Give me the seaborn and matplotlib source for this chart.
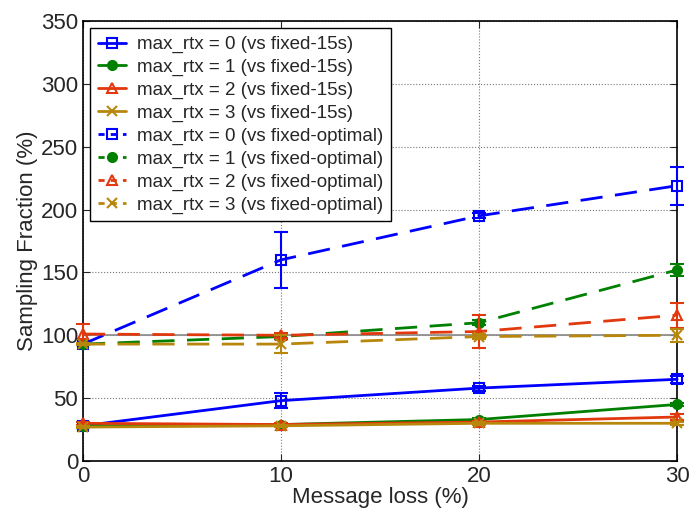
import numpy as np
import pandas as pd
import matplotlib
matplotlib.use("Agg")
import matplotlib.pyplot as plt
from matplotlib.lines import Line2D
import seaborn as sns

loss = [0, 10, 20, 30]

# vs fixed-15s (solid)
rtx0_15 = [28, 48, 58, 65]
rtx1_15 = [28, 29, 33, 45]
rtx2_15 = [30, 29, 31, 35]
rtx3_15 = [27, 28, 30, 30]
err0_15 = [1, 6, 2, 3]
err1_15 = [1, 1, 1, 1]
err2_15 = [1, 1, 1, 2]
err3_15 = [1, 1, 1, 1]

# vs fixed-optimal (dashed)
rtx0_opt = [93, 160, 195, 219]
rtx1_opt = [93, 99, 110, 152]
rtx2_opt = [101, 100, 103, 116]
rtx3_opt = [93, 93, 99, 100]
err0_opt = [1, 22, 2, 15]
err1_opt = [1, 2, 2, 5]
err2_opt = [8, 2, 13, 10]
err3_opt = [1, 7, 2, 5]

labels_15 = ["max_rtx = 0 (vs fixed-15s)", "max_rtx = 1 (vs fixed-15s)",
             "max_rtx = 2 (vs fixed-15s)", "max_rtx = 3 (vs fixed-15s)"]
labels_opt = ["max_rtx = 0 (vs fixed-optimal)", "max_rtx = 1 (vs fixed-optimal)",
              "max_rtx = 2 (vs fixed-optimal)", "max_rtx = 3 (vs fixed-optimal)"]

colors = ["#0000FF", "#008000", "#E2380E", "#B8860B"]
markers = ["s", "o", "^", "x"]
fills = ["none", "full", "none", "full"]

sns.set_style("ticks")
plt.rcParams["font.family"] = ["Liberation Sans", "DejaVu Sans"]

fig = plt.figure(figsize=(6.91, 5.12), dpi=100)
ax = fig.add_axes([0.120, 0.0996, 0.860, 0.8594])

dash = (0, (8, 4.5))
series = [
    (rtx0_15, err0_15, labels_15[0], 0, "-"),
    (rtx1_15, err1_15, labels_15[1], 1, "-"),
    (rtx2_15, err2_15, labels_15[2], 2, "-"),
    (rtx3_15, err3_15, labels_15[3], 3, "-"),
    (rtx0_opt, err0_opt, labels_opt[0], 0, dash),
    (rtx1_opt, err1_opt, labels_opt[1], 1, dash),
    (rtx2_opt, err2_opt, labels_opt[2], 2, dash),
    (rtx3_opt, err3_opt, labels_opt[3], 3, dash),
]

ax.axhline(100, color="#888888", lw=1.2, zorder=1)

handles = []
for vals, errs, lab, i, ls in series:
    df = pd.DataFrame({"loss": loss, "frac": vals})
    n_before = len(ax.lines)
    sns.lineplot(data=df, x="loss", y="frac", ax=ax, color=colors[i], legend=False)
    ln = ax.lines[n_before]
    ln.set_linestyle(ls)
    ln.set_linewidth(2)
    ln.set_marker(markers[i])
    ln.set_markersize(6.5)
    ln.set_markeredgewidth(1.5)
    ln.set_markeredgecolor(colors[i])
    ln.set_markerfacecolor(colors[i] if fills[i] == "full" else "none")
    ln.set_clip_on(False)
    ln.set_zorder(3)
    ax.errorbar(loss, vals, yerr=errs, fmt="none", ecolor=colors[i],
                elinewidth=1.5, capsize=5, capthick=1.5, clip_on=False, zorder=3)
    # legend proxy with a short dash pattern so it shows in the short handle
    handles.append(Line2D([], [], color=colors[i], lw=2,
                          linestyle="-" if ls == "-" else (0, (2.2, 2.2)),
                          marker=markers[i], markersize=6.5, markeredgewidth=1.5,
                          markeredgecolor=colors[i],
                          markerfacecolor=colors[i] if fills[i] == "full" else "none",
                          label=lab))

ax.set_xlim(0, 30)
ax.set_ylim(0, 350)
ax.set_xticks([0, 10, 20, 30])
ax.set_yticks(range(0, 351, 50))
ax.grid(True, linestyle=":", color="#777777", lw=0.8)
ax.tick_params(direction="in", top=True, right=True, labelsize=16, length=5)
for s in ax.spines.values():
    s.set_color("black")
    s.set_linewidth(1.2)
ax.set_xlabel("Message loss (%)", fontsize=16, labelpad=0)
ax.set_ylabel("Sampling Fraction (%)", fontsize=16, labelpad=2)

leg = ax.legend(handles=handles, loc="upper left", fontsize=13.5, handlelength=1.5,
                labelspacing=0.3, borderpad=0.4, handletextpad=0.6,
                borderaxespad=0.4, fancybox=False, framealpha=1, edgecolor="black")
leg.get_frame().set_linewidth(1.0)

fig.savefig("out.png", dpi=100)
